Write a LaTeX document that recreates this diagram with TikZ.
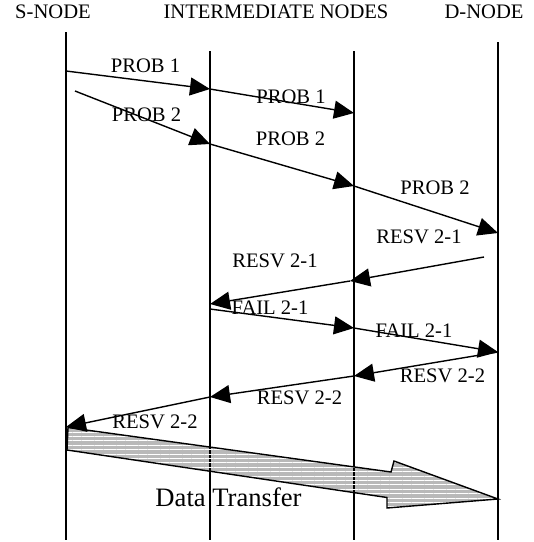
\documentclass[tikz,border=0pt]{standalone}
\usepackage{fontspec}
\setmainfont{Liberation Serif}
\usetikzlibrary{arrows.meta,patterns.meta}

\begin{document}
\begin{tikzpicture}[x=0.5pt,y=-0.5pt,
  lifeline/.style={line width=0.7pt},
  msg/.style={line width=0.7pt,-{Triangle[length=10pt,width=9pt]}},
  lbl/.style={inner sep=0pt,font=\fontsize{10.3}{12}\selectfont},
  bigtext/.style={inner sep=0pt,font=\fontsize{13.3}{15}\selectfont}]
\useasboundingbox (0,0) rectangle (534,542);

\node[lbl] (snode) at (53,12) {S-NODE};
\node[lbl] (inode) at (276,12) {INTERMEDIATE NODES};
\node[lbl] (dnode) at (484,12) {D-NODE};

% lifelines
\coordinate (stop) at (66,32);   \coordinate (sbot) at (66,540);
\coordinate (itop) at (210,51);  \coordinate (ibot) at (210,540);
\coordinate (jtop) at (354,51);  \coordinate (jbot) at (354,540);
\coordinate (dtop) at (498,42);  \coordinate (dbot) at (498,540);

% data transfer arrow
\coordinate (dtA) at (68,427.5);
\coordinate (dtB) at (391,472);
\coordinate (dtC) at (394,461);
\coordinate (dtD) at (498,499);
\coordinate (dtE) at (387,508);
\coordinate (dtF) at (387,497.5);
\coordinate (dtG) at (67,450);
\fill[gray!55] (dtA) -- (dtB) -- (dtC) -- (dtD) -- (dtE) -- (dtF) -- (dtG) -- cycle;

\draw[lifeline] (stop) -- (sbot);
\draw[lifeline] (itop) -- (ibot);
\draw[lifeline] (jtop) -- (jbot);
\draw[lifeline] (dtop) -- (dbot);

\path[pattern={Lines[angle=0,distance=2.2pt,line width=0.5pt]},pattern color=white]
  (dtA) -- (dtB) -- (dtC) -- (dtD) -- (dtE) -- (dtF) -- (dtG) -- cycle;
\draw[line width=0.7pt,line join=miter]
  (dtA) -- (dtB) -- (dtC) -- (dtD) -- (dtE) -- (dtF) -- (dtG) -- cycle;
\node[bigtext] (data) at (228.5,497) {Data Transfer};

% PROB 1
\coordinate (pa1) at (66,71);
\coordinate (pa2) at (210,89);
\coordinate (pa3) at (354,113);
\draw[msg] (pa1) -- (pa2);
\draw[msg] (pa2) -- (pa3);
\node[lbl] (proba) at (145.5,66) {PROB 1};
\node[lbl] (probb) at (291,97) {PROB 1};

% PROB 2
\coordinate (pb1) at (75,91);
\coordinate (pb2) at (210,144);
\coordinate (pb3) at (354,186);
\coordinate (pb4) at (498,233);
\draw[msg] (pb1) -- (pb2);
\draw[msg] (pb2) -- (pb3);
\draw[msg] (pb3) -- (pb4);
\node[lbl] (probc) at (146.5,114.5) {PROB 2};
\node[lbl] (probd) at (290.5,138.5) {PROB 2};
\node[lbl] (probe) at (435,188) {PROB 2};

% RESV 2-1
\coordinate (ra1) at (484,257);
\coordinate (ra2) at (350,281);
\coordinate (ra3) at (210,304);
\draw[msg] (ra1) -- (ra2);
\draw[msg] (ra2) -- (ra3);
\node[lbl] (resva) at (419,236.5) {RESV 2-1};
\node[lbl] (resvb) at (275,261) {RESV 2-1};

% FAIL 2-1
\coordinate (fa1) at (210,309);
\coordinate (fa2) at (354,328);
\coordinate (fa3) at (498,352);
\draw[msg] (fa1) -- (fa2);
\draw[msg] (fa2) -- (fa3);
\node[lbl] (faila) at (270,307.5) {FAIL 2-1};
\node[lbl] (failb) at (414,331) {FAIL 2-1};

% RESV 2-2
\coordinate (rb2) at (354,376);
\coordinate (rb3) at (210,397);
\coordinate (rb4) at (66,427);
\draw[msg] (fa3) -- (rb2);
\draw[msg] (rb2) -- (rb3);
\draw[msg] (rb3) -- (rb4);
\node[lbl] (resvc) at (442.5,376) {RESV 2-2};
\node[lbl] (resvd) at (299.5,398) {RESV 2-2};
\node[lbl] (resve) at (155,421.5) {RESV 2-2};
\end{tikzpicture}
\end{document}
